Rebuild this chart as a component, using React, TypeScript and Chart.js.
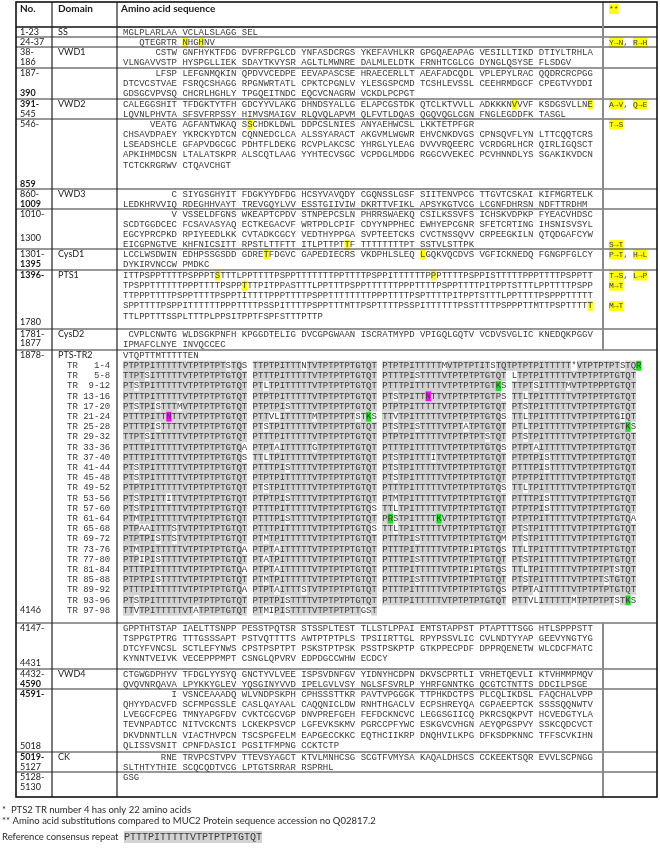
import React, { useEffect, useRef } from "react";
import { Chart, registerables } from "chart.js";
Chart.register(...registerables);

// ---------------- DATA ----------------
const headers = ["No.", "Domain", "Amino acid sequence", "**"];

const rowNumbers: string[][] = [
  ["1-23"], ["24-37"], ["38-", "186"], ["187-", "390"], ["391-", "545"], ["546-", "859"],
  ["860-", "1009"], ["1010-", "1300"], ["1301-", "1395"], ["1396-", "1780"], ["1781-", "1877"],
  ["1878-", "4146"], ["4147-", "4431"], ["4432-", "4590"], ["4591-", "5018"], ["5019-", "5127"], ["5128-", "5130"],
];
const boldNumbers = ["390", "391-", "859", "1009", "1395", "1396-", "4590", "4591-", "5019-"];

const domains = ["SS", "", "VWD1", "", "VWD2", "", "VWD3", "", "CysD1", "PTS1", "CysD2", "PTS-TR2", "", "VWD4", "", "CK", ""];

const seqSS = ["MGLPLARLAA VCLALSLAGG SEL"];
const seq24 = ["   QTEGRTR NHGHNV"];
const seqVWD1 = [
  "      CSTW GNFHYKTFDG DVFRFPGLCD YNFASDCRGS YKEFAVHLKR GPGQAEAPAG VESILLTIKD DTIYLTRHLA",
  "VLNGAVVSTP HYSPGLLIEK SDAYTKVYSR AGLTLMWNRE DALMLELDTK FRNHTCGLCG DYNGLQSYSE FLSDGV",
];
const seq187 = [
  "      LFSP LEFGNMQKIN QPDVVCEDPE EEVAPASCSE HRAECERLLT AEAFADCQDL VPLEPYLRAC QQDRCRCPGG",
  "DTCVCSTVAE FSRQCSHAGG RPGNWRTATL CPKTCPGNLV YLESGSPCMD TCSHLEVSSL CEEHRMDGCF CPEGTVYDDI",
  "GDSGCVPVSQ CHCRLHGHLY TPGQEITNDC EQCVCNAGRW VCKDLPCPGT",
];
const seqVWD2 = [
  "CALEGGSHIT TFDGKTYTFH GDCYYVLAKG DHNDSYALLG ELAPCGSTDK QTCLKTVVLL ADKKKNVVVF KSDGSVLLNE",
  "LQVNLPHVTA SFSVFRPSSY HIMVSMAIGV RLQVQLAPVM QLFVTLDQAS QGQVQGLCGN FNGLEGDDFK TASGL",
];
const seq546 = [
  "     VEATG AGFANTWKAQ SSCHDKLDWL DDPCSLNIES ANYAEHWCSL LKKTETPFGR",
  "CHSAVDPAEY YKRCKYDTCN CQNNEDCLCA ALSSYARACT AKGVMLWGWR EHVCNKDVGS CPNSQVFLYN LTTCQQTCRS",
  "LSEADSHCLE GFAPVDGCGC PDHTFLDEKG RCVPLAKCSC YHRGLYLEAG DVVVRQEERC VCRDGRLHCR QIRLIGQSCT",
  "APKIHMDCSN LTALATSKPR ALSCQTLAAG YYHTECVSGC VCPDGLMDDG RGGCVVEKEC PCVHNNDLYS SGAKIKVDCN",
  "TCTCKRGRWV CTQAVCHGT",
];
const seqVWD3 = [
  "         C SIYGSGHYIT FDGKYYDFDG HCSYVAVQDY CGQNSSLGSF SIITENVPCG TTGVTCSKAI KIFMGRTELK",
  "LEDKHRVVIQ RDEGHHVAYT TREVGQYLVV ESSTGIIVIW DKRTTVFIKL APSYKGTVCG LCGNFDHRSN NDFTTRDHM",
];
const seq1010 = [
  "         V VSSELDFGNS WKEAPTCPDV STNPEPCSLN PHRRSWAEKQ CSILKSSVFS ICHSKVDPKP FYEACVHDSC",
  "SCDTGGDCEC FCSAVASYAQ ECTKEGACVF WRTPDLCPIF CDYYNPPHEC EWHYEPCGNR SFETCRTING IHSNISVSYL",
  "EGCYPRCPKD RPIYEEDLKK CVTADKCGCY VEDTHYPPGA SVPTEETCKS CVCTNSSQVV CRPEEGKILN QTQDGAFCYW",
  "EICGPNGTVE KHFNICSITT RPSTLTTFTT ITLPTTPTTF TTTTTTTTPT SSTVLSTTPK",
];
const seqCysD1 = [
  "LCCLWSDWIN EDHPSSGSDD GDRETFDGVC GAPEDIECRS VKDPHLSLEQ LGQKVQCDVS VGFICKNEDQ FGNGPFGLCY",
  "DYKIRVNCCW PMDKC",
];
const seqPTS1 = [
  "ITTPSPPTTTTPSPPPTSTTTLPPTTTTPSPPTTTTTTTPPTTTTPSPPITTTTTTPPPTTTTPSPPISTTTTTPPPTTTTPSPPTT",
  "TPSPPTTTTTTPPPTTTTPSPPTTTPITPPASTTTLPPTTTPSPPTTTTTTPPPTTTTPSPPTTTTPITPPTSTTTLPPTTTTPSPP",
  "TTPPPTTTTPSPPTTTTPSPPTITTTTPPPTTTTPSPPTTTTTTTTPPPTTTTPSPTTTTPITPPTSTTTLPPTTTTPSPPPTTTTT",
  "SPPTTTTPSPPITTTTTTPPPTTTTPSSPITTTTPSPPTTTMTTPSPTTTTPSSPITTTTTTPSSTTTTPSPPPTTMTTPSPTTTTT",
  "TTLPPTTTSSPLTTTPLPPSITPPTFSPFSTTTPTTP",
];
const seqCysD2 = [
  " CVPLCNWTG WLDSGKPNFH KPGGDTELIG DVCGPGWAAN ISCRATMYPD VPIGQLGQTV VCDVSVGLIC KNEDQKPGGV",
  "IPMAFCLNYE INVQCCEC",
];
const trRanges = [
  "1-4", "5-8", "9-12", "13-16", "17-20", "21-24", "25-28", "29-32", "33-36", "37-40", "41-44", "45-48", "49-52",
  "53-56", "57-60", "61-64", "65-68", "69-72", "73-76", "77-80", "81-84", "85-88", "89-92", "93-96", "97-98",
];
const trLines = [
  "PTPTPITTTTTVTPTPTPTSTQS TTPTPITTTNTVTPTPTPTGTQT PTPTPITTTTTMVTPTPTITSTQTPTPTPITTTTT*VTPTPTPTSTQR",
  "TTPTSITTTTTVTPTPTPTGTQT PTTTPITTTTTVTPTPTPTGTQT PTTTPISTTTTVTPTPTPTGTQT LTPTPITTTTTVTPTPTPTGTQT",
  "PTSTPITTTTTVTPTPTPTGTQT PTLTPITTTTTVTPTPTPTGTQT PTTTPITTTTTVTPTPTPTGTKS TTPTSITTTTMVTPTPPPTGTQT",
  "PTTTPITTTTTVTPTPTPTGTQT PTPTPITTTTTVTPTPTPTGTQT PTSTPITTNTTVTPTPTPTGTPS TTLTPITTTTTVTPTPTPTGTQT",
  "PTSTPISTTTMVTPTPTPTGTQT PTPTPISTTTTVTPTPTPTGTQT PTPTPITTTTTVTPTPTPTGTQT PTSTPITTTTTVTPTPTPTGTQT",
  "PTTTPITTNTTVTPTPTPTGTQT PTTVLITTTTTMTPTPTPTSTKS TTVTPITTTTTVTPTPTPTGTQS TTLTPITTTTTVTPTPTPTGIQT",
  "PTTTPISTTTTVTPTPTPTGTQT PTSTPITTTTTVTPTPTPTGTQT PTSTPISTTTTVTPTATPTGTQT PTLTPITTTTTVTPTPTPTGTKS",
  "TTPTSITTTTTVTPTPTPTGTQT PTTTPITTTTTVTPTPTPTGTQT PTPTPITTTTTVTPTPTPTSTQT PTSTPITTTTTVTPTPTPTGTQT",
  "PTTTPITTTTTVTPTPTPTGTQA PTPTAITTTTTGTPTPTPTGTQT PTTTPITTTTTVTPTPTPTGTQS PTPTAITTTTTVTPTPTPTGTQT",
  "PTTTPITTTTTVTPTPTPTGTQS TTLTPITTTTTVTPTPTPTGTQT PTSTPITTTITVTPTPTPTGTQT PTPTPISTTTTVTPTPTPTGTQT",
  "PTSTPITTTTTVTPTPTPTGTQT PTTTPISTTTTVTPTPTPTGTQT PTSTPITTTTTVTPTPTPTGTQT PTTTPISTTTTVTPTPTPTGTQT",
  "PTSTPITTTTTVTPTPTPTGTQT PTPTPITTTTTVTPTPTPTGTQT PTSTPITTTTTVTPTPTPTGTQT PTPTPITTTTTVTPTPTPTGTQT",
  "PTPTPITTTTTVTPTPTPTGTQT PTSTPITTTTTVTPTPTPTGTQT PTTTPITTTTTVTPTPTPTGTQS TTLTPITTTTTVTPTPTPTGTQT",
  "PTSTPITTITTVTPTPTPTGTQT PTPTPISTTTTVTPTPTPTGTQT PTMTPITTTTTVTPTPTPTGTQT PTTTPISTTTTVTPTPTPTGTQT",
  "PTSTPITTTTTVTPTPTPTGTQT PTTTPITTTTTVTPTPTPTGTQS TTLTPITTTTTVTPTPTPTGTQT PTPTPISTTTTVTPTPTPTGTQT",
  "PTMTPITTTTTVTPTPTPTGTQT PTTTPISTTTTVTPTPTPTGTQT PRSTPITTTTKVTPTPTPTGTQT PTPTPITTTTTVTPTPTPTGTQA",
  "PTPAAITTTSTVTPTPTPTGTQT PTTTPITTTTTVTPTPTPTGTQS TTLTPITTTTTVTPTPTPTGTQT PTSTPITTTTTVTPTPTPTGTQT",
  "PTPTPISTTSTVTPTPTPTGTQT PTMTPITTTTTVTPTPTPTGTQT PTTTPISTTTTVTPTPTPTGTQM PTSTPITTTTTVTPTPTPTGTQT",
  "PTMTPITTTTTVTPTPTPTGTQA PTPTAITTTTTVTPTPTPTGTQT PTTTPITTTTTVTPTPIPTGTQS TTLTPITTTTTVTPTPTPTGTQT",
  "PTPIPISTTTTVTPTPTPTGTQT PTATPITTTTTVTPTPTPTGTQT PTTTPISTTTTVTPTPTPTGTQT PTSTPITTTTTVTPTPTPTGTQT",
  "PTTTPITTTTTVTPTPTPTGTQA PTPTAITTTTTVTPTPTPTGTQT PTTTPITTTTTVTPTPIPTGTQS TTLTPITTTTTVTPTPTPTSTQT",
  "PTPTPISTTTTVTPTPTPTGTQT PTMTPITTTTTVTPTPTPTGTQT PTTTPISTTTTVTPTPTPTGTQT PTSTPITTTTTVTPTPTSTGTQT",
  "PTTTPITTTTTVTPTPTPTGTQA PTPTAITTTSTVTPTPTPTGTQT PTTTPITTTTTVTPTPTPTGTQS PTPTAITTTTTVTPTPTPTGTQT",
  "PTSTPITTTTTVTPTPTPTGTQT PTPTPISTTTTVTPTPTPTGTQT PTTTPITTTTTVTPTPTPTGTQT PTTVLITTTTTMTPTPTPTSTKS",
  "TTVTPITTTTTVTATPTPTGTQT PTMIPISTTTTVTPTPTPTTGST",
];
const seqTR2 = ["VTQPTTMTTTTTEN", ...trLines];
const seq4147 = [
  "GPPTHTSTAP IAELTTSNPP PESSTPQTSR STSSPLTEST TLLSTLPPAI EMTSTAPPST PTAPTTTSGG HTLSPPPSTT",
  "TSPPGTPTRG TTTGSSSAPT PSTVQTTTTS AWTPTPTPLS TPSIIRTTGL RPYPSSVLIC CVLNDTYYAP GEEVYNGTYG",
  "DTCYFVNCSL SCTLEFYNWS CPSTPSPTPT PSKSTPTPSK PSSTPSKPTP GTKPPECPDF DPPRQENETW WLCDCFMATC",
  "KYNNTVEIVK VECEPPPMPT CSNGLQPVRV EDPDGCCWHW ECDCY",
];
const seqVWD4 = [
  "CTGWGDPHYV TFDGLYYSYQ GNCTYVLVEE ISPSVDNFGV YIDNYHCDPN DKVSCPRTLI VRHETQEVLI KTVHMMPMQV",
  "QVQVNRQAVA LPYKKYGLEV YQSGINYVVD IPELGVLVSY NGLSFSVRLP YHRFGNNTKG QCGTCTNTTS DDCILPSGE",
];
const seq4591 = [
  "         I VSNCEAAADQ WLVNDPSKPH CPHSSSTTKR PAVTVPGGGK TTPHKDCTPS PLCQLIKDSL FAQCHALVPP",
  "QHYYDACVFD SCFMPGSSLE CASLQAYAAL CAQQNICLDW RNHTHGACLV ECPSHREYQA CGPAEEPTCK SSSSQQNWTV",
  "LVEGCFCPEG TMNYAPGFDV CVKTCGCVGP DNVPREFGEH FEFDCKNCVC LEGGSGIICQ PKRCSQKPVT HCVEDGTYLA",
  "TEVNPADTCC NITVCKCNTS LCKEKPSVCP LGFEVKSKMV PGRCCPFYWC ESKGVCVHGN AEYQPGSPVY SSKCQDCVCT",
  "DKVDNNTLLN VIACTHVPCN TSCSPGFELM EAPGECCKKC EQTHCIIKRP DNQHVILKPG DFKSDPKNNC TFFSCVKIHN",
  "QLISSVSNIT CPNFDASICI PGSITFMPNG CCKTCTP",
];
const seqCK = [
  "       RNE TRVPCSTVPV TTEVSYAGCT KTVLMNHCSG SCGTFVMYSA KAQALDHSCS CCKEEKTSQR EVVLSCPNGG",
  "SLTHTYTHIE SCQCQDTVCG LPTGTSRRAR RSPRHL",
];
const seqEnd = ["GSG"];

const sequences: string[][] = [
  seqSS, seq24, seqVWD1, seq187, seqVWD2, seq546, seqVWD3, seq1010, seqCysD1, seqPTS1, seqCysD2,
  seqTR2, seq4147, seqVWD4, seq4591, seqCK, seqEnd,
];

const substitutions = [
  { row: 1, line: 0, parts: ["Y→N", "R→H"] },
  { row: 4, line: 0, parts: ["A→V", "Q→E"] },
  { row: 5, line: 0, parts: ["T→S"] },
  { row: 7, line: 3, parts: ["S→T"] },
  { row: 8, line: 0, parts: ["P→T", "H→L"] },
  { row: 9, line: 0, parts: ["T→S", "L→P"] },
  { row: 9, line: 1, parts: ["M→T"] },
  { row: 9, line: 3, parts: ["M→T"] },
];

// highlighted residues: row, line, character index, kind
const highlights = [
  { row: 1, line: 0, col: 11, kind: "sub" }, { row: 1, line: 0, col: 14, kind: "sub" },
  { row: 4, line: 0, col: 72, kind: "sub" }, { row: 4, line: 0, col: 86, kind: "sub" },
  { row: 5, line: 0, col: 23, kind: "sub" },
  { row: 7, line: 3, col: 41, kind: "sub" },
  { row: 8, line: 0, col: 26, kind: "sub" }, { row: 8, line: 0, col: 55, kind: "sub" },
  { row: 9, line: 0, col: 17, kind: "sub" }, { row: 9, line: 0, col: 57, kind: "sub" },
  { row: 9, line: 1, col: 22, kind: "sub" }, { row: 9, line: 3, col: 86, kind: "sub" },
  { row: 11, line: 1, col: 95, kind: "basic" },
  { row: 11, line: 3, col: 69, kind: "basic" },
  { row: 11, line: 4, col: 56, kind: "glyco" },
  { row: 11, line: 6, col: 8, kind: "glyco" }, { row: 11, line: 6, col: 45, kind: "basic" },
  { row: 11, line: 7, col: 93, kind: "basic" },
  { row: 11, line: 16, col: 49, kind: "basic" }, { row: 11, line: 16, col: 58, kind: "basic" },
  { row: 11, line: 24, col: 93, kind: "basic" },
];

const consensus = "PTTTPITTTTTVTPTPTPTGTQT";
const footnotes = [
  "*  PTS2 TR number 4 has only 22 amino acids",
  "** Amino acid substitutions compared to MUC2 Protein sequence accession no Q02817.2",
];
const consensusLabel = "Reference consensus repeat";

// ---------------- LAYOUT / STYLE ----------------
const W = 660, H = 864;
const X_LEFT = 16, X_NO_DOM = 52, X_DOM_SEQ = 117, X_SEQ_SUB = 603, X_RIGHT = 657;
const Y_TOP = 2, HEADER_BOTTOM = 27;
const ROW_H = [10, 10, 21, 31, 20, 70, 20, 40, 21, 59, 21, 273, 46, 20, 63, 20, 25];
const LABEL_END = [0, 0, 10, 20, 10, 60, 10, 24, 10, 47, 9, -1, 35, 10, 52, 10, 10];
const PITCH = 10.2;
const FIRST = 5.5;
const SEQ_X = 123, NUM_X = 20, DOM_X = 58, SUB_X = 609, TR_X = 67;
const SEQ_FONT = '9px "Liberation Mono", monospace';
const SUB_FONT = '8px "Liberation Mono", monospace';
const LBL_FONT = '9px Lato, "Noto Sans", sans-serif';
const LBL_BOLD = 'bold 9px Lato, "Noto Sans", sans-serif';
const HDR_FONT = 'bold 10px Lato, "Noto Sans", sans-serif';
const NOTE_FONT = '9.5px Lato, "Noto Sans", sans-serif';
const SEQ_COLOR = "#3a3a3a";
const TXT_COLOR = "#1a1a1a";
const SHADE = "#d3d3d3";
const YELLOW = "#ffff00";
const GREEN = "#22dd22";
const MAGENTA = "#ff00ff";

const tablePlugin = {
  id: "tableDraw",
  afterDraw(chart: any) {
    const ctx: CanvasRenderingContext2D = chart.ctx;
    const sx = chart.scales.x, sy = chart.scales.y;
    const X = (v: number) => sx.getPixelForValue(v);
    const Y = (v: number) => sy.getPixelForValue(v);
    ctx.save();
    ctx.fillStyle = "#ffffff";
    ctx.fillRect(X(0), Y(0), X(W) - X(0), Y(H) - Y(0));
    ctx.textBaseline = "middle";
    ctx.textAlign = "left";

    ctx.font = SEQ_FONT;
    const cw = ctx.measureText("MMMMMMMMMM").width / 10;

    const tops: number[] = [];
    let t = HEADER_BOTTOM;
    ROW_H.forEach((h) => { tops.push(t); t += h; });
    const bottom = t;

    const lineY = (r: number, i: number) => tops[r] + FIRST + i * PITCH;

    // TR shading
    const isShaded = (ch: string, pos: number, len: number) => {
      if (ch === "P" || ch === "T") return true;
      if ("IVGQ".includes(ch)) {
        if (len !== 23) return true;
        return consensus[pos] === ch;
      }
      return false;
    };
    trLines.forEach((ln, k) => {
      const yc = lineY(11, k + 1);
      const tokens = ln.split(" ");
      let col = 0;
      tokens.forEach((tok) => {
        let runStart = -1;
        for (let i = 0; i <= tok.length; i++) {
          const sh = i < tok.length && isShaded(tok[i], i, tok.length);
          if (sh && runStart < 0) runStart = i;
          if (!sh && runStart >= 0) {
            ctx.fillStyle = SHADE;
            const x0 = X(SEQ_X + (col + runStart) * cw), x1 = X(SEQ_X + (col + i) * cw);
            ctx.fillRect(Math.round(x0), Y(yc - PITCH / 2), Math.round(x1) - Math.round(x0), Y(PITCH) - Y(0));
            runStart = -1;
          }
        }
        col += tok.length + 1;
      });
    });

    // residue highlights
    highlights.forEach((hl) => {
      const yc = lineY(hl.row, hl.line);
      ctx.fillStyle = hl.kind === "sub" ? YELLOW : hl.kind === "basic" ? GREEN : MAGENTA;
      ctx.fillRect(X(SEQ_X + hl.col * cw), Y(yc - 5), cw, Y(10) - Y(0));
    });

    // sequences
    ctx.font = SEQ_FONT;
    ctx.fillStyle = SEQ_COLOR;
    sequences.forEach((lines, r) => {
      lines.forEach((ln, i) => ctx.fillText(ln, X(SEQ_X), Y(lineY(r, i))));
    });
    // TR labels
    trRanges.forEach((rg, k) => {
      ctx.fillText("TR " + rg.padStart(5, " "), X(TR_X), Y(lineY(11, k + 1)));
    });
    // consensus reference
    const refY = 837;
    ctx.fillStyle = SHADE;
    ctx.font = '10px "Liberation Mono", monospace';
    const cw2 = ctx.measureText("M").width;
    ctx.fillRect(X(124), Y(refY - 6), cw2 * consensus.length, Y(12) - Y(0));
    ctx.fillStyle = SEQ_COLOR;
    ctx.fillText(consensus, X(124), Y(refY));

    // substitutions column
    ctx.font = SUB_FONT;
    const subDraw = (parts: string[], yc: number) => {
      let x = SUB_X;
      parts.forEach((p, j) => {
        const w = ctx.measureText(p).width;
        ctx.fillStyle = YELLOW;
        ctx.fillRect(X(x), Y(yc - 5), w, Y(10) - Y(0));
        ctx.fillStyle = SEQ_COLOR;
        ctx.fillText(p, X(x), Y(yc));
        x += w;
        if (j < parts.length - 1) {
          ctx.fillText(",", X(x), Y(yc));
          x += ctx.measureText(", ").width;
        }
      });
    };
    substitutions.forEach((s) => subDraw(s.parts, lineY(s.row, s.line)));

    // header
    ctx.font = HDR_FONT;
    ctx.fillStyle = TXT_COLOR;
    ctx.fillText(headers[0], X(NUM_X), Y(9));
    ctx.fillText(headers[1], X(DOM_X), Y(9));
    ctx.fillText(headers[2], X(121), Y(9));
    ctx.font = SUB_FONT;
    const sw = ctx.measureText(headers[3]).width;
    ctx.fillStyle = YELLOW;
    ctx.fillRect(X(SUB_X), Y(4), sw, Y(10) - Y(0));
    ctx.fillStyle = SEQ_COLOR;
    ctx.fillText(headers[3], X(SUB_X), Y(9));

    // numbers and domains
    rowNumbers.forEach((nums, r) => {
      const y0 = tops[r] + FIRST;
      nums.forEach((n, i) => {
        ctx.font = boldNumbers.includes(n) ? LBL_BOLD : LBL_FONT;
        ctx.fillStyle = TXT_COLOR;
        const off = i === 0 ? 0 : LABEL_END[r] < 0 ? trLines.length * PITCH : LABEL_END[r];
        ctx.fillText(n, X(NUM_X), Y(y0 + off));
      });
      if (domains[r]) {
        ctx.font = LBL_FONT;
        ctx.fillText(domains[r], X(DOM_X), Y(y0));
      }
    });

    // footnotes
    ctx.font = NOTE_FONT;
    ctx.fillStyle = "#2a2a2a";
    ctx.fillText(footnotes[0], X(2), Y(810));
    ctx.fillText(footnotes[1], X(2), Y(821));
    ctx.fillText(consensusLabel, X(2), Y(refY));

    // grid
    const hline = (y: number, w: number, c: string) => {
      ctx.strokeStyle = c; ctx.lineWidth = w;
      ctx.beginPath(); ctx.moveTo(X(X_LEFT), Y(y)); ctx.lineTo(X(X_RIGHT), Y(y)); ctx.stroke();
    };
    const vline = (x: number, y0: number, y1: number, w: number, c: string) => {
      ctx.strokeStyle = c; ctx.lineWidth = w;
      ctx.beginPath(); ctx.moveTo(X(x), Y(y0)); ctx.lineTo(X(x), Y(y1)); ctx.stroke();
    };
    hline(HEADER_BOTTOM, 1.6, "#111");
    tops.slice(1).forEach((y) => hline(y, 1.1, "#333"));
    vline(X_NO_DOM, Y_TOP, bottom, 1.2, "#222");
    vline(X_DOM_SEQ, Y_TOP, bottom, 1.2, "#222");
    vline(X_SEQ_SUB, Y_TOP, tops[11], 2, "#8a8a8a");
    vline(X_SEQ_SUB, tops[12], bottom, 2, "#8a8a8a");
    ctx.strokeStyle = "#111"; ctx.lineWidth = 1.6;
    ctx.strokeRect(X(X_LEFT), Y(Y_TOP), X(X_RIGHT) - X(X_LEFT), Y(bottom) - Y(Y_TOP));
    ctx.restore();
  },
};

export default function App() {
  const ref = useRef<HTMLCanvasElement | null>(null);
  useEffect(() => {
    if (!ref.current) return;
    const chart = new Chart(ref.current, {
      type: "scatter",
      data: { datasets: [{ data: [] }] },
      options: {
        responsive: false,
        animation: false,
        layout: { padding: 0 },
        plugins: { legend: { display: false }, tooltip: { enabled: false } },
        scales: {
          x: { type: "linear", min: 0, max: W, display: false },
          y: { type: "linear", min: 0, max: H, reverse: true, display: false },
        },
      },
      plugins: [tablePlugin],
    } as any);
    return () => chart.destroy();
  }, []);
  return (
    <div style={{ position: "fixed", left: 0, top: 0, width: W, height: H, background: "#fff" }}>
      <canvas ref={ref} width={W} height={H} style={{ width: W, height: H }} />
    </div>
  );
}
